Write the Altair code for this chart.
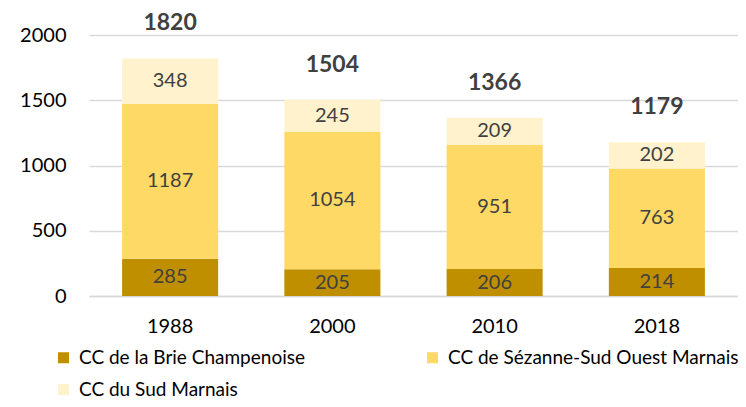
import altair as alt
import pandas as pd

years = ["1988", "2000", "2010", "2018"]
series = ["CC de la Brie Champenoise", "CC de Sézanne-Sud Ouest Marnais", "CC du Sud Marnais"]
brie = [285, 205, 206, 214]
sezanne = [1187, 1054, 951, 763]
sud = [348, 245, 209, 202]
totals = [1820, 1504, 1366, 1179]
colors = ["#BF8F00", "#FFD966", "#FFF2CC"]

rows = []
for i, y in enumerate(years):
    for k, (s, vals) in enumerate(zip(series, [brie, sezanne, sud])):
        rows.append({"year": y, "series": s, "value": vals[i], "order": k})
df = pd.DataFrame(rows)
tot = pd.DataFrame({"year": years, "total": totals})

FONT = "Lato"

x = alt.X("year:N", sort=years, title=None,
          scale=alt.Scale(paddingInner=0.408, paddingOuter=0.204),
          axis=alt.Axis(labelAngle=0, labelFontSize=20, labelColor="#000000",
                        labelPadding=20, ticks=False, domain=True,
                        domainColor="#D9D9D9", domainWidth=1.5, labelFont=FONT))

base = alt.Chart(df).encode(x=x)

bars = base.mark_bar().encode(
    y=alt.Y("value:Q", stack="zero", title=None,
            scale=alt.Scale(domain=[0, 2000]),
            axis=alt.Axis(values=[0, 500, 1000, 1500, 2000], format="d", labelFontSize=20,
                          labelColor="#000000", labelPadding=23, ticks=False,
                          domain=False, gridColor="#D9D9D9", gridWidth=1.5,
                          labelFont=FONT)),
    color=alt.Color("series:N", sort=series,
                    scale=alt.Scale(domain=series, range=colors),
                    legend=alt.Legend(title=None, orient="none", legendX=-35, legendY=313,
                                      direction="horizontal", columns=2,
                                      columnPadding=118, rowPadding=12,
                                      symbolType="square", symbolSize=121,
                                      symbolStrokeWidth=0, labelFontSize=19,
                                      labelColor="#000000", labelFont=FONT,
                                      labelLimit=0,
                                      symbolOffset=0, labelOffset=6)),
    order=alt.Order("order:Q"),
)

labels = base.mark_text(fontSize=20, color="#404040", font=FONT, baseline="middle").encode(
    y=alt.Y("value:Q", stack="zero", bandPosition=0.5),
    text=alt.Text("value:Q"),
    order=alt.Order("order:Q"),
)

total_text = alt.Chart(tot).mark_text(fontSize=23, fontWeight="bold", color="#404040",
                                      font=FONT, baseline="middle", dy=-35).encode(
    x=alt.X("year:N", sort=years),
    y=alt.Y("total:Q"),
    text=alt.Text("total:Q"),
)

chart = (bars + labels + total_text).properties(
    width=649, height=261,
    autosize=alt.AutoSizeParams(type="none"),
    padding={"left": 81, "top": 27, "right": 0, "bottom": 103},
).configure_view(stroke=None).configure_axis(grid=True).configure_axisX(grid=False)

chart.save("out.html", embed_options={"renderer": "svg", "actions": False})
